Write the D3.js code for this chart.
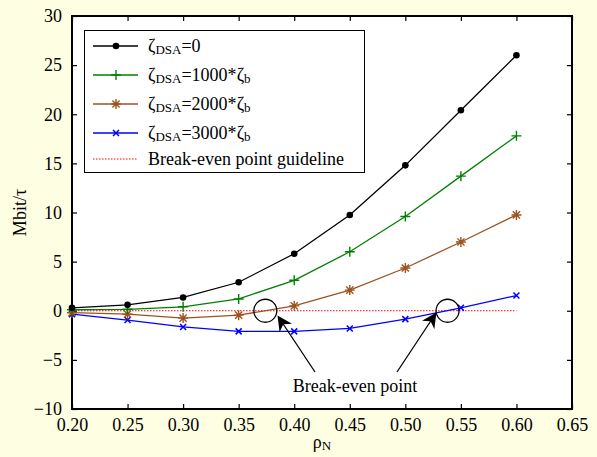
<!DOCTYPE html>
<html>
<head>
<meta charset="utf-8">
<script src="https://cdn.jsdelivr.net/npm/d3@7"></script>
<style>
  body { margin: 0; background: #fefee2; }
  svg { display: block; font-family: "Liberation Serif", "Times New Roman", serif; }
</style>
</head>
<body>
<div id="chart"></div>
<script>
//____ DATA ____//
const rho = [0.20, 0.25, 0.30, 0.35, 0.40, 0.45, 0.50, 0.55, 0.60]
const dsa0 = [0.3, 0.6, 1.35, 2.9, 5.8, 9.75, 14.8, 20.4, 26.0]
const dsa1000 = [0.1, 0.15, 0.4, 1.2, 3.1, 6.0, 9.6, 13.7, 17.8]
const dsa2000 = [-0.2, -0.35, -0.75, -0.45, 0.5, 2.1, 4.35, 7.0, 9.75]
const dsa3000 = [-0.35, -0.95, -1.65, -2.1, -2.1, -1.8, -0.85, 0.3, 1.55]
const guideline = [[0.20, 0], [0.60, 0]]
const breakEven = [0.374, 0.538]
const xTicks = [0.20, 0.25, 0.30, 0.35, 0.40, 0.45, 0.50, 0.55, 0.60, 0.65]
const yTicks = [-10, -5, 0, 5, 10, 15, 20, 25, 30]

const series = [
    {key: '0', values: dsa0, color: '#000000', marker: 'dot'},
    {key: '1000', values: dsa1000, color: '#008000', marker: 'plus'},
    {key: '2000', values: dsa2000, color: '#9c5320', marker: 'star'},
    {key: '3000', values: dsa3000, color: '#0000ff', marker: 'cross'}
]

const FONT = '"Liberation Serif", "Times New Roman", serif'
const FS = 18

//____ SVG ____//
const W = 597, H = 457
const margin = {left: 72, right: 25, top: 16, bottom: 48}

const svg = d3.select('#chart').append('svg')
    .attr('width', W)
    .attr('height', H)

const x = d3.scaleLinear().domain([0.2, 0.65]).range([margin.left, W - margin.right])
const y = d3.scaleLinear().domain([-10, 30]).range([H - margin.bottom, margin.top])

svg.append('rect')
    .attr('x', margin.left).attr('y', margin.top)
    .attr('width', W - margin.left - margin.right)
    .attr('height', H - margin.top - margin.bottom)
    .attr('fill', 'white')

// axes with inward ticks on all sides
const fmtX = d3.format('.2f')
const fmtY = d => d < 0 ? '\u2212' + Math.abs(d) : d

function styleAxis(g, noText) {
    g.attr('font-family', FONT)
    g.select('.domain').remove()
    g.selectAll('line').attr('stroke', 'black').attr('stroke-width', 1.2)
    g.selectAll('text').attr('font-size', FS).attr('fill', 'black')
    if (noText) g.selectAll('text').remove()
}

svg.append('g')
    .attr('transform', `translate(0,${y(-10)})`)
    .call(d3.axisBottom(x).tickValues(xTicks).tickFormat(fmtX).tickSizeInner(-5).tickPadding(9))
    .call(g => styleAxis(g))
svg.append('g')
    .attr('transform', `translate(0,${y(30)})`)
    .call(d3.axisTop(x).tickValues(xTicks).tickSizeInner(-5))
    .call(g => styleAxis(g, true))
svg.append('g')
    .attr('transform', `translate(${x(0.2)},0)`)
    .call(d3.axisLeft(y).tickValues(yTicks).tickFormat(fmtY).tickSizeInner(-5).tickPadding(10))
    .call(g => styleAxis(g))
svg.append('g')
    .attr('transform', `translate(${x(0.65)},0)`)
    .call(d3.axisRight(y).tickValues(yTicks).tickSizeInner(-5))
    .call(g => styleAxis(g, true))

svg.append('rect')
    .attr('x', margin.left).attr('y', margin.top)
    .attr('width', W - margin.left - margin.right)
    .attr('height', H - margin.top - margin.bottom)
    .attr('fill', 'none')
    .attr('stroke', 'black')
    .attr('stroke-width', 2)

//____ MARKERS ____//
function drawMarker(g, type, color, cx, cy) {
    if (type === 'dot') {
        g.append('circle').attr('cx', cx).attr('cy', cy).attr('r', 3.3).attr('fill', color)
    } else {
        const s = type === 'cross' ? 3 : 5
        const p = d3.path()
        if (type === 'plus' || type === 'star') {
            p.moveTo(cx - s, cy); p.lineTo(cx + s, cy)
            p.moveTo(cx, cy - s); p.lineTo(cx, cy + s)
        }
        if (type === 'cross' || type === 'star') {
            const d = type === 'star' ? s * 0.72 : s
            p.moveTo(cx - d, cy - d); p.lineTo(cx + d, cy + d)
            p.moveTo(cx - d, cy + d); p.lineTo(cx + d, cy - d)
        }
        g.append('path').attr('d', p.toString()).attr('stroke', color)
            .attr('stroke-width', type === 'cross' ? 1.5 : 1.4).attr('fill', 'none')
    }
}

//____ LINES ____//
const line = d3.line().x(d => x(d[0])).y(d => y(d[1]))

svg.append('path')
    .datum(guideline)
    .attr('d', line)
    .attr('stroke', '#ff0000')
    .attr('stroke-width', 1)
    .attr('stroke-dasharray', '1.5,1.5')
    .attr('fill', 'none')

const seriesG = svg.append('g')
series.slice().reverse().forEach(s => {
    const pts = rho.map((r, i) => [r, s.values[i]])
    const g = seriesG.append('g')
    g.append('path')
        .datum(pts)
        .attr('d', line)
        .attr('stroke', s.color)
        .attr('stroke-width', 1.3)
        .attr('fill', 'none')
    pts.forEach(p => drawMarker(g, s.marker, s.color, x(p[0]), y(p[1])))
})

//____ BREAK-EVEN ANNOTATION ____//
breakEven.forEach(b => {
    svg.append('circle')
        .attr('cx', x(b)).attr('cy', y(0)).attr('r', 11.5)
        .attr('fill', 'none').attr('stroke', 'black').attr('stroke-width', 1.3)
})

svg.append('defs').append('marker')
    .attr('id', 'arrowHead')
    .attr('viewBox', '0 0 10 10')
    .attr('refX', 9).attr('refY', 5)
    .attr('markerWidth', 15).attr('markerHeight', 15)
    .attr('markerUnits', 'userSpaceOnUse')
    .attr('orient', 'auto')
    .append('path')
    .attr('d', 'M0,0 L10,5 L0,10 L3,5 z')
    .attr('fill', 'black')

const arrows = [
    {from: [315, 372], to: [x(breakEven[0]) + 13, y(0) + 6]},
    {from: [397, 372], to: [x(breakEven[1]) - 12, y(0) + 3]}
]
arrows.forEach(a => {
    svg.append('line')
        .attr('x1', a.from[0]).attr('y1', a.from[1])
        .attr('x2', a.to[0]).attr('y2', a.to[1])
        .attr('stroke', 'black').attr('stroke-width', 1.3)
        .attr('marker-end', 'url(#arrowHead)')
})

svg.append('text')
    .attr('x', 355).attr('y', 392)
    .attr('text-anchor', 'middle')
    .attr('font-size', FS)
    .text('Break-even point')

//____ LEGEND ____//
const legend = svg.append('g')
legend.append('rect')
    .attr('x', 84.5).attr('y', 30.5)
    .attr('width', 280).attr('height', 142)
    .attr('fill', 'white').attr('stroke', 'black').attr('stroke-width', 1)

const legendLabels = ['=0', '=1000*', '=2000*', '=3000*']
series.forEach((s, i) => {
    const ly = 46 + i * 29
    legend.append('line')
        .attr('x1', 93).attr('x2', 138).attr('y1', ly).attr('y2', ly)
        .attr('stroke', s.color).attr('stroke-width', 1.3)
    drawMarker(legend, s.marker, s.color, 116, ly)
    const t = legend.append('text').attr('x', 148).attr('y', ly + 6).attr('font-size', FS)
    t.append('tspan').text('\u03b6')
    t.append('tspan').attr('font-size', 13).attr('dy', 2).text('DSA')
    t.append('tspan').attr('dy', -2).text(legendLabels[i])
    if (i > 0) {
        t.append('tspan').text('\u03b6')
        t.append('tspan').attr('font-size', 13).attr('dy', 2).text('b')
    }
})
legend.append('line')
    .attr('x1', 93).attr('x2', 138).attr('y1', 159).attr('y2', 159)
    .attr('stroke', '#ff0000').attr('stroke-width', 1).attr('stroke-dasharray', '1.5,1.5')
legend.append('text').attr('x', 148).attr('y', 165).attr('font-size', FS)
    .text('Break-even point guideline')

//____ AXIS LABELS ____//
svg.append('text')
    .attr('transform', `translate(26,${(y(30) + y(-10)) / 2}) rotate(-90)`)
    .attr('text-anchor', 'middle')
    .attr('font-size', FS)
    .text('Mbit/\u03c4')

const xl = svg.append('text')
    .attr('x', x(0.425)).attr('y', 448)
    .attr('text-anchor', 'middle')
    .attr('font-size', FS)
xl.append('tspan').text('\u03c1')
xl.append('tspan').attr('font-size', 13).attr('dy', 2).text('N')
</script>
</body>
</html>
